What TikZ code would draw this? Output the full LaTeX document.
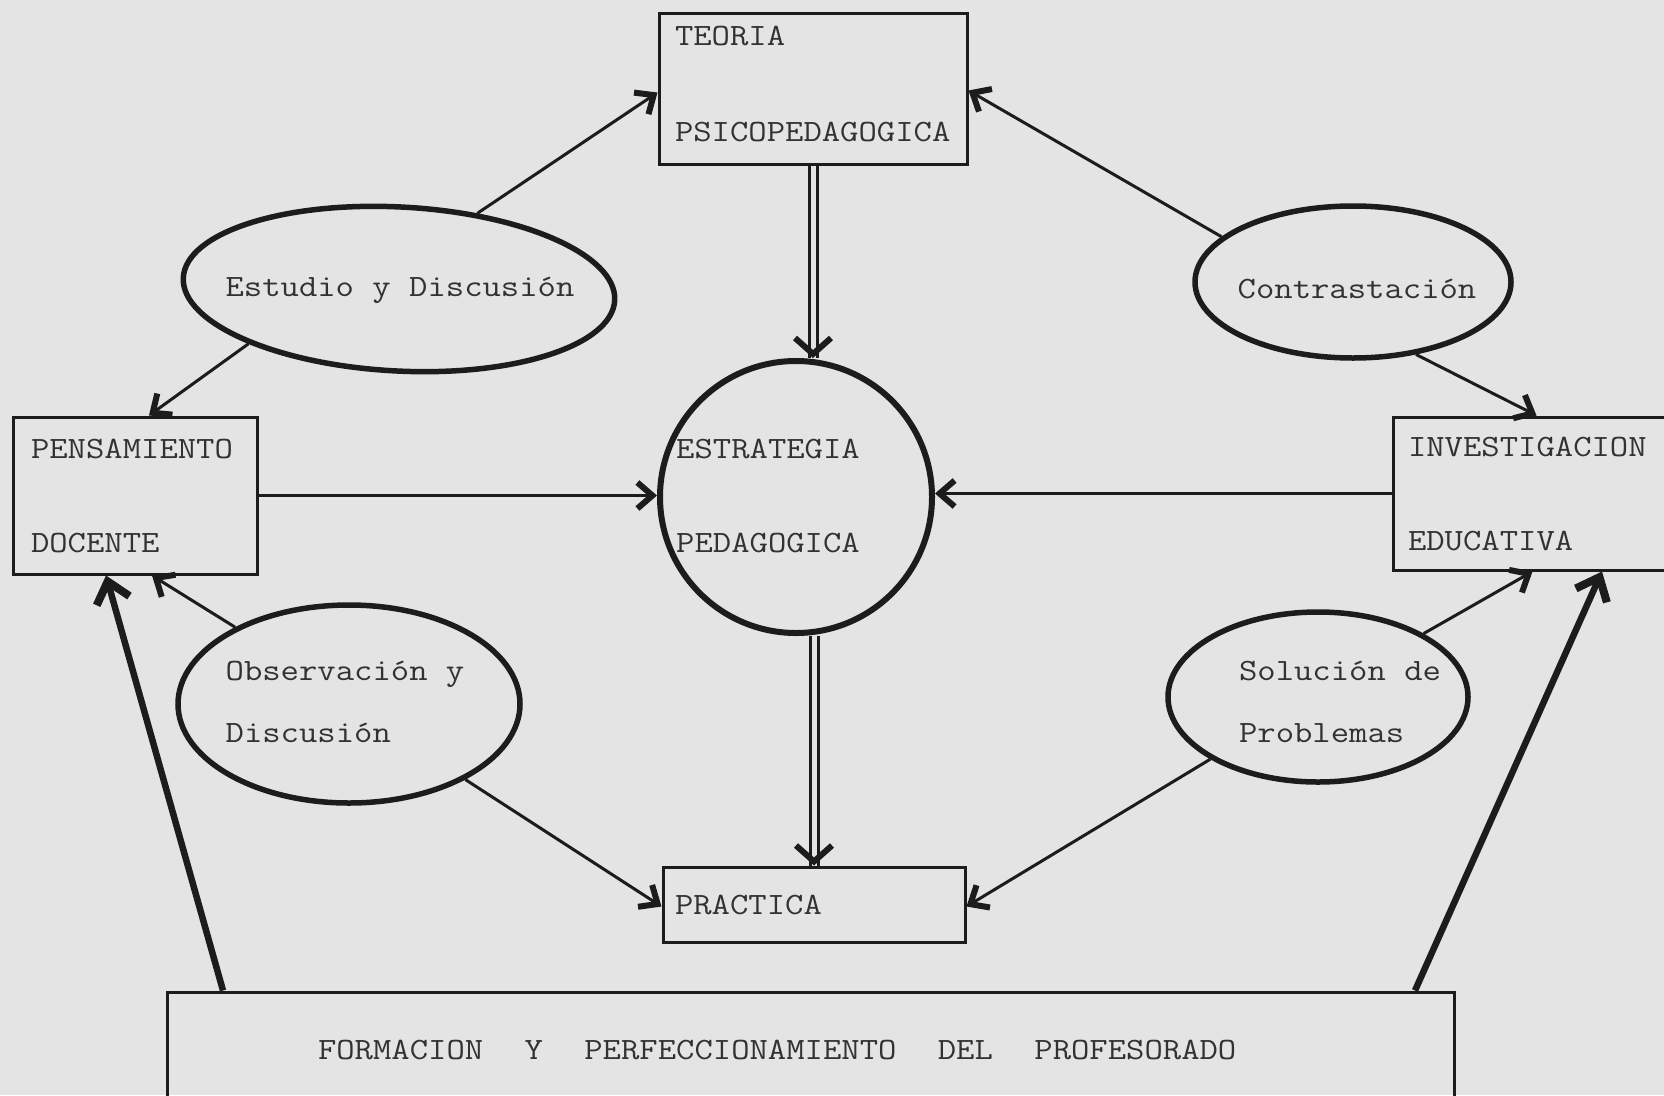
\documentclass[tikz,border=0pt]{standalone}
\usepackage{fontspec}
\usetikzlibrary{shapes.geometric,arrows.meta,calc}
\definecolor{paper}{RGB}{228,228,228}
\definecolor{ink}{RGB}{28,28,28}
\definecolor{type}{RGB}{50,50,50}
% typewriter face, widened to a 10-pitch look
\newcommand{\tw}[1]{\ttfamily\fontsize{31}{#1}\selectfont}
\newcommand{\sx}[1]{\scalebox{1.15}[1]{#1}}
\newcommand{\gap}{\hspace{36pt}}
\begin{document}
\begin{tikzpicture}[x=1pt,y=-1pt,
  txt/.style={font=\tw{94}, text=type},
  txtb/.style={font=\tw{62}, text=type, align=left, inner sep=0pt},
  box/.style={txt, draw=ink, line width=3pt, rectangle, inner ysep=0pt, align=left},
  oval/.style={draw=ink, line width=5.5pt, ellipse, inner sep=0pt},
  ring/.style={draw=ink, line width=6pt, circle, inner sep=0pt},
  link/.style={draw=ink, line width=3pt, -{Straight Barb[length=15pt,width=26pt,line width=6pt]}},
  heavy/.style={draw=ink, line width=6.5pt, -{Straight Barb[length=20pt,width=34pt,line width=8pt]}},
  rail/.style={draw=ink, line width=3pt},
  railtip/.style={draw=ink, line width=1pt, -{Straight Barb[length=16pt,width=36pt,line width=6pt]}}]

\useasboundingbox (0,0) rectangle (1664,1095);
\fill[paper] (0,0) rectangle (1664,1095);
\clip (0,0) rectangle (1664,1095);

% boxes
\node[box, minimum width=308, minimum height=151] (teoria) at (813,88.5) {};
\node[txt, align=left, text width=276, inner sep=0pt] (teoriatxt) at ([yshift=4.5]teoria.center) {\sx{TEORIA}\\[2pt]\sx{PSICOPEDAGOGICA}};
\node[box, minimum width=244, minimum height=157, text width=208, inner xsep=18] (pens) at (135,495.5) {\sx{PENSAMIENTO}\\\sx{DOCENTE}};
\node[box, minimum width=287, minimum height=153, text width=257, inner xsep=15] (inv) at (1536.5,493.5) {\sx{INVESTIGACION}\\\sx{EDUCATIVA}};
\node[box, minimum width=302, minimum height=75, text width=278, inner xsep=12] (prac) at (814,904.5) {\sx{PRACTICA}};
\node[box, minimum width=1287, minimum height=116, text width=985, inner xsep=151] (form) at (810.5,1050) {\sx{FORMACION\gap Y\gap PERFECCIONAMIENTO\gap DEL\gap PROFESORADO}};

% central circle
\node[ring, minimum size=272] (estr) at (796,497) {};
\node[txtb, font=\tw{94}] (estrtxt) at (768,496) {\sx{ESTRATEGIA}\\\sx{PEDAGOGICA}};

% ellipses
\node[oval, minimum width=432, minimum height=164, rotate=-3] (estudio) at (399,289) {};
\node[txtb] (estudiotxt) at (400,290) {\sx{Estudio y Discusión}};
\node[oval, minimum width=316, minimum height=152] (contr) at (1353,282) {};
\node[txtb] (contrtxt) at (1357,289) {\sx{Contrastación}};
\node[oval, minimum width=342, minimum height=198] (obs) at (349,704) {};
\node[txtb] (obstxt) at (345,702) {\sx{Observación y}\\\sx{Discusión}};
\node[oval, minimum width=300, minimum height=170] (sol) at (1318,697) {};
\node[txtb] (soltxt) at (1340,701.5) {\sx{Solución de}\\\sx{Problemas}};

% thin connectors
\draw[link] (estudio.47) -- ([yshift=-4]teoria.west);
\draw[link] (estudio.203) -- ([xshift=14]pens.north);
\draw[link] (contr.161) -- ([yshift=-2]teoria.east);
\draw[link] (contr.-49) -- (inv.north);
\draw[link] (obs.146) -- ([xshift=17]pens.south);
\draw[link] (obs.-33) -- ([yshift=-2]prac.west);
\draw[link] (sol.31) -- ([xshift=-4]inv.south);
\draw[link] (sol.210) -- ([yshift=-2]prac.east);
\draw[link] (pens.east) -- (pens.east -| estr.west);
\draw[link] (inv.west) -- (inv.west -| estr.east);

% double rails
\coordinate (ta) at ([xshift=-4]teoria.south);
\coordinate (tb) at ([xshift=4]teoria.south);
\coordinate (tc) at (teoria.south |- estr.north);
\draw[rail] (ta) -- (ta |- estr.north);
\draw[rail] (tb) -- (tb |- estr.north);
\draw[railtip] ([yshift=2]tc) -- (tc);

\coordinate (pa) at ([xshift=-4]prac.north);
\coordinate (pb) at ([xshift=4]prac.north);
\coordinate (pc) at (prac.north);
\draw[rail] (pa |- estr.south) -- (pa);
\draw[rail] (pb |- estr.south) -- (pb);
\draw[railtip] ([yshift=2]pc) -- (pc);

% heavy connectors
\draw[heavy] ([xshift=-587.5]form.north) -- ([xshift=-29]pens.south);
\draw[heavy] ([xshift=604.5]form.north) -- ([xshift=65.5]inv.south);
\end{tikzpicture}
\end{document}
